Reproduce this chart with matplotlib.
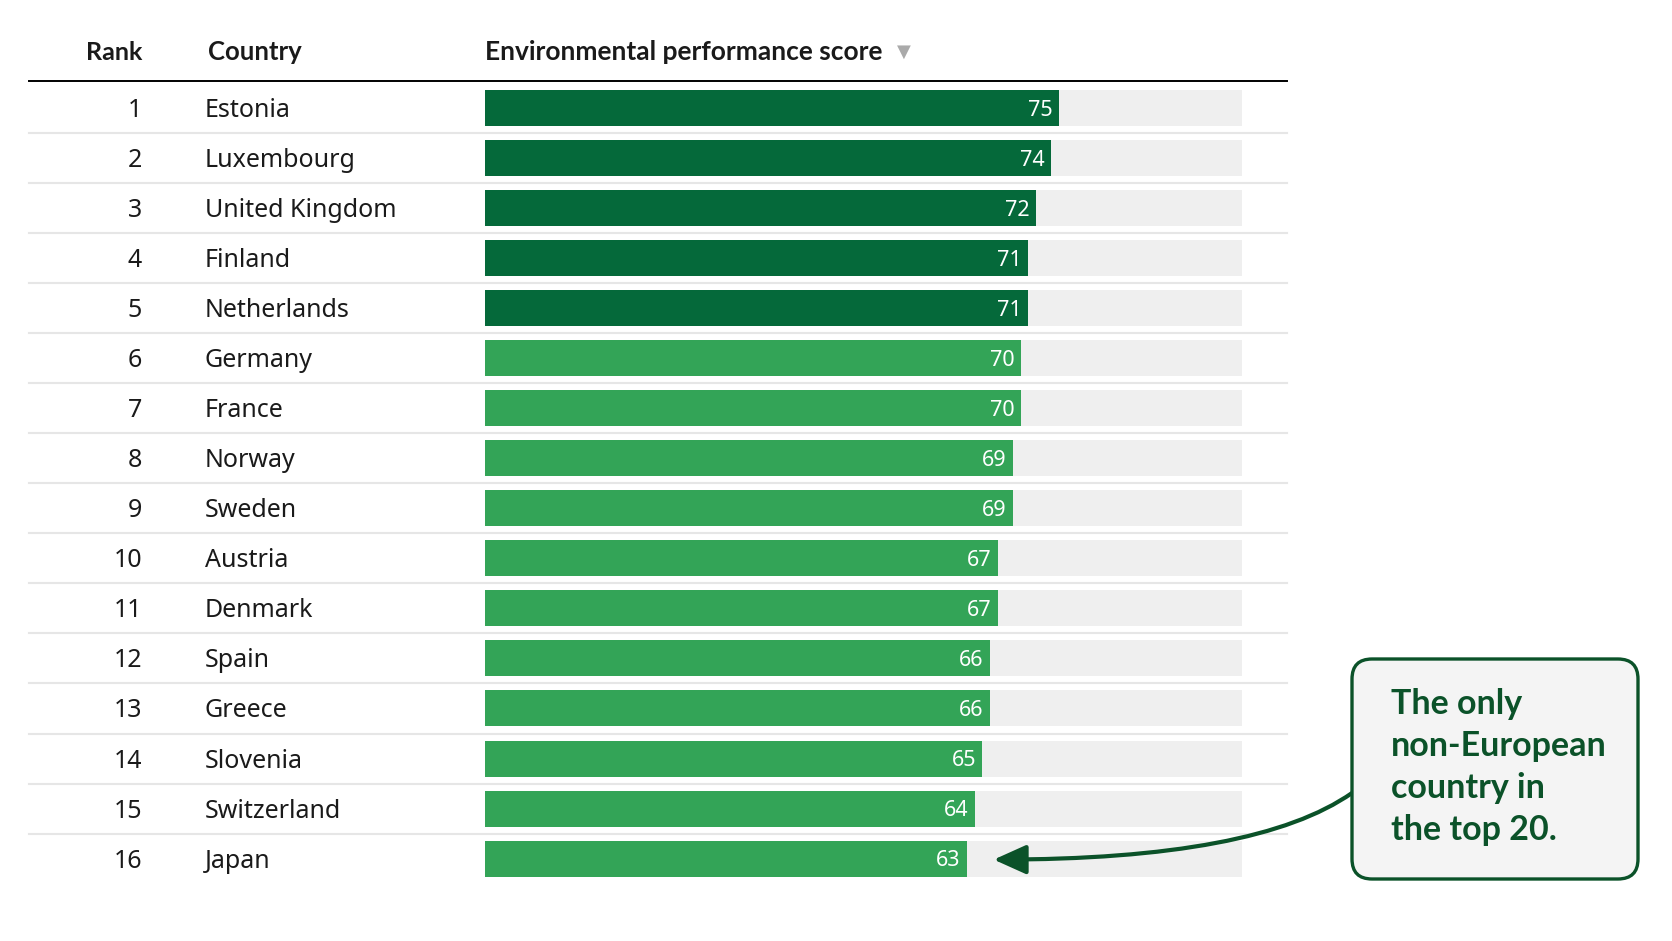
import matplotlib.pyplot as plt
from matplotlib.patches import FancyBboxPatch
from matplotlib.lines import Line2D

ranks = list(range(1, 17))
countries = ["Estonia", "Luxembourg", "United Kingdom", "Finland", "Netherlands",
             "Germany", "France", "Norway", "Sweden", "Austria", "Denmark",
             "Spain", "Greece", "Slovenia", "Switzerland", "Japan"]
scores = [75, 74, 72, 71, 71, 70, 70, 69, 69, 67, 67, 66, 66, 65, 64, 63]
n_top = 5  # top five drawn in dark green
track_end = 99

DARK = "#05693A"
LIGHT = "#33A457"
TRACK = "#EFEFEF"
SEP = "#E6E6E6"
TEXT = "#1A1A1A"
NOTE = "#0B5229"
BOLD = ["Lato", "Open Sans", "DejaVu Sans"]

W, H = 1672, 941
fig = plt.figure(figsize=(W / 100, H / 100), dpi=100)
fig.patch.set_facecolor("white")

# one axes over the whole figure: x in score units, y in row units
px_per_unit = 7.65
x0_px = 485
row0_px, row_px = 108, 50.04
ax = fig.add_axes([0, 0, 1, 1])
ax.set_xlim(-x0_px / px_per_unit, (W - x0_px) / px_per_unit)
ax.set_ylim((H - row0_px) / row_px, -row0_px / row_px)
ax.axis("off")

plt.rcParams["font.family"] = ["Noto Sans", "DejaVu Sans"]

rows = range(len(countries))
ax.barh(rows, [track_end] * len(countries), height=0.72, color=TRACK, zorder=1)
colors = [DARK if i < n_top else LIGHT for i in rows]
ax.barh(rows, scores, height=0.72, color=colors, zorder=2)

yt = ax.get_yaxis_transform()
for i, (rk, c, s) in enumerate(zip(ranks, countries, scores)):
    ax.text(142 / W, i + 0.05, str(rk), transform=yt,
            ha="right", va="center", fontsize=18, color=TEXT)
    ax.text(205 / W, i + 0.05, c, transform=yt,
            ha="left", va="center", fontsize=18, color=TEXT)
    ax.text(s - 0.8, i + 0.04, str(s), ha="right", va="center",
            fontsize=15.5, color="white", zorder=3)

# header
hy = -56 / row_px
ax.text(114 / W, hy, "Rank", transform=yt, ha="center", va="center",
        fontsize=18, fontweight="bold", family=BOLD, color=TEXT)
ax.text(208 / W, hy, "Country", transform=yt, ha="left", va="center",
        fontsize=18.5, fontweight="bold", family=BOLD, color=TEXT)
ax.text(0, hy, "Environmental performance score", ha="left", va="center",
        fontsize=19, fontweight="bold", family=BOLD, color=TEXT)
ax.text(904 / W, hy, "\u25BC", transform=yt, ha="center", va="center",
        fontsize=13, color="#AAAAAA")

# header rule and row separators
ax.add_line(Line2D([29 / W, 1287 / W], [-0.54, -0.54], transform=yt,
                   color="black", lw=1.4, zorder=4))
for i in range(len(countries) - 1):
    ax.add_line(Line2D([29 / W, 1287 / W], [i + 0.5, i + 0.5], transform=yt,
                       color=SEP, lw=1.5, zorder=0))

# callout box
bx, by, bw, bh = 1352, 659, 286, 220
box = FancyBboxPatch((bx / W, 1 - (by + bh) / H), bw / W, bh / H,
                     boxstyle="round,pad=0,rounding_size=0.012",
                     transform=fig.transFigure, facecolor="#F4F4F4",
                     edgecolor=NOTE, lw=2.4, mutation_aspect=W / H)
fig.patches.append(box)
note_lines = ["The only", "non-European", "country in", "the top 20."]
for k, line in enumerate(note_lines):
    fig.text(1391 / W, 1 - (704 + 42 * k) / H, line, ha="left", va="center",
             fontsize=24.5, fontweight="bold", family=BOLD, color=NOTE)

# arrow from box to Japan
japan = countries.index("Japan")
ax.annotate("", xy=(scores[japan] + 3.5, japan + 0.02),
            xytext=(bx / W, 1 - 793 / H), textcoords="figure fraction",
            arrowprops=dict(arrowstyle="-|>,head_length=2.0,head_width=0.9",
                            connectionstyle="angle3,angleA=-145,angleB=180",
                            color=NOTE, lw=3, shrinkA=0, shrinkB=0),
            zorder=5)

fig.savefig("out.png", dpi=100, facecolor="white")
